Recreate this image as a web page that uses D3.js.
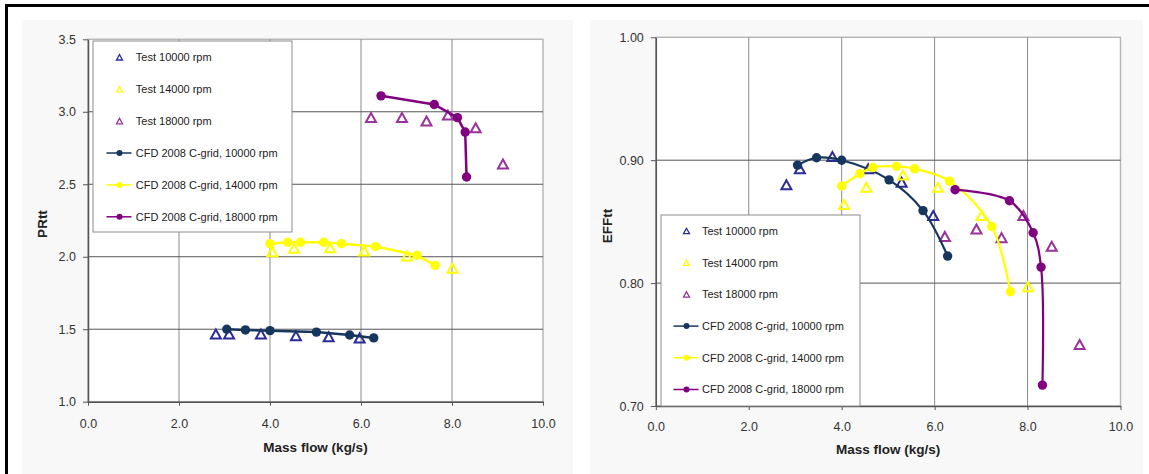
<!DOCTYPE html>
<html>
<head>
<meta charset="utf-8">
<script src="https://cdn.jsdelivr.net/npm/d3@7"></script>
<style>
  body { margin: 0; background: #fff; }
  svg { display: block; font-family: "Liberation Sans", Arial, sans-serif; }
</style>
</head>
<body>
<svg id="chart" width="1149" height="474"></svg>
<script>
// ---- Axis ticks ----
const massFlowTicks = [0, 2, 4, 6, 8, 10];
const prTicks = [1.0, 1.5, 2.0, 2.5, 3.0, 3.5];
const effTicks = [0.70, 0.80, 0.90, 1.00];

// ---- Series names (legend order) ----
const seriesNames = [
  "Test 10000 rpm", "Test 14000 rpm", "Test 18000 rpm",
  "CFD 2008 C-grid, 10000 rpm", "CFD 2008 C-grid, 14000 rpm", "CFD 2008 C-grid, 18000 rpm"
];
const seriesColors = ["#2b2b9a", "#ffff00", "#993399", "#17365d", "#ffff00", "#800080"];

// ---- Test measurements ----
const test10kFlow = [2.81, 3.10, 3.80, 4.57, 5.29, 5.97];
const test10kPR   = [1.467, 1.467, 1.467, 1.455, 1.448, 1.440];
const test10kEff  = [0.880, 0.893, 0.903, 0.893, 0.882, 0.855];

const test14kFlow = [4.05, 4.53, 5.32, 6.07, 7.01, 8.01];
const test14kPR   = [2.034, 2.058, 2.062, 2.040, 2.005, 1.920];
const test14kEff  = [0.864, 0.878, 0.888, 0.878, 0.855, 0.797];

const test18kFlow = [6.22, 6.90, 7.44, 7.91, 8.52, 9.12];
const test18kPR   = [2.960, 2.960, 2.936, 2.977, 2.890, 2.640];
const test18kEff  = [0.838, 0.844, 0.837, 0.855, 0.830, 0.750];

// ---- CFD 2008 C-grid results ----
const cfd10kFlow = [3.05, 3.46, 4.00, 5.02, 5.75, 6.28];
const cfd10kPR   = [1.500, 1.495, 1.490, 1.480, 1.460, 1.440];
const cfd10kEff  = [0.896, 0.902, 0.900, 0.884, 0.859, 0.822];

const cfd14kFlow = [4.00, 4.39, 4.67, 5.18, 5.57, 6.32, 7.23, 7.63];
const cfd14kPR   = [2.090, 2.100, 2.100, 2.100, 2.090, 2.070, 2.010, 1.940];
const cfd14kEff  = [0.879, 0.889, 0.894, 0.895, 0.893, 0.883, 0.846, 0.793];

const cfd18kFlow = [6.44, 7.61, 8.12, 8.29, 8.32];
const cfd18kPR   = [3.110, 3.050, 2.960, 2.860, 2.550];
const cfd18kEff  = [0.876, 0.867, 0.841, 0.813, 0.717];

const zip = (xs, ys) => xs.map((v, i) => [v, ys[i]]);

const svg = d3.select("#chart");

// Outer frame (top and left edges)
svg.append("rect").attr("x", 5).attr("y", 4).attr("width", 1144).attr("height", 3).attr("fill", "#000");
svg.append("rect").attr("x", 5).attr("y", 4).attr("width", 3).attr("height", 470).attr("fill", "#000");

// Light chart-area panels
svg.append("rect").attr("x", 22).attr("y", 20).attr("width", 551).attr("height", 460).attr("fill", "#f8f8f8");
svg.append("rect").attr("x", 590).attr("y", 20).attr("width", 553).attr("height", 460).attr("fill", "#f8f8f8");

function triangle(sel, size, color, sw) {
  const h = size * 0.9;
  sel.append("path")
    .attr("d", `M0,${-h / 2}L${size / 2},${h / 2}L${-size / 2},${h / 2}Z`)
    .attr("fill", "none")
    .attr("stroke", color)
    .attr("stroke-width", sw)
    .attr("stroke-linejoin", "miter");
}

function drawPanel(cfg) {
  const x = d3.scaleLinear().domain([0, 10]).range([cfg.left, cfg.right]);
  const y = d3.scaleLinear().domain(cfg.yDomain).range([cfg.bottom, cfg.top]);
  const g = svg.append("g");

  // plot area
  g.append("rect")
    .attr("x", cfg.left).attr("y", cfg.top)
    .attr("width", cfg.right - cfg.left).attr("height", cfg.bottom - cfg.top)
    .attr("fill", "#fff").attr("stroke", "#b8b8b8").attr("stroke-width", 1.5);

  // gridlines
  g.append("g").selectAll("line").data(massFlowTicks.slice(1, -1)).join("line")
    .attr("x1", d => x(d)).attr("x2", d => x(d))
    .attr("y1", cfg.top).attr("y2", cfg.bottom)
    .attr("stroke", "#8a8a8a").attr("stroke-width", 1);
  g.append("g").selectAll("line").data(cfg.yTicks.slice(1, -1)).join("line")
    .attr("x1", cfg.left).attr("x2", cfg.right)
    .attr("y1", d => y(d)).attr("y2", d => y(d))
    .attr("stroke", "#555").attr("stroke-width", 1);

  // axes
  const xAxis = g.append("g").attr("transform", `translate(0,${cfg.bottom})`)
    .call(d3.axisBottom(x).tickValues(massFlowTicks).tickFormat(d3.format(".1f"))
      .tickSize(4).tickPadding(cfg.xPad).tickSizeOuter(0));
  const yAxis = g.append("g").attr("transform", `translate(${cfg.left},0)`)
    .call(d3.axisLeft(y).tickValues(cfg.yTicks).tickFormat(d3.format(cfg.yFmt))
      .tickSize(5).tickPadding(7).tickSizeOuter(0));
  [xAxis, yAxis].forEach(a => {
    a.select(".domain").attr("stroke", "#555").attr("stroke-width", 1.5);
    a.selectAll(".tick line").attr("stroke", "#555");
    a.selectAll(".tick text").attr("fill", "#333").attr("font-size", 12.5)
      .attr("font-family", "'Liberation Sans', Arial, sans-serif");
  });

  // axis titles
  g.append("text").attr("x", (cfg.left + cfg.right) / 2).attr("y", cfg.xTitleY)
    .attr("text-anchor", "middle").attr("font-size", 13.5).attr("font-weight", "bold")
    .attr("fill", "#222").text("Mass flow (kg/s)");
  g.append("text")
    .attr("transform", `translate(${cfg.yTitleX},${cfg.yTitleY}) rotate(-90)`)
    .attr("text-anchor", "middle").attr("dominant-baseline", "central")
    .attr("font-size", 13.5).attr("font-weight", "bold").attr("fill", "#222")
    .text(cfg.yTitle);

  // test series (open triangles)
  cfg.tests.forEach((pts, i) => {
    g.append("g").selectAll("g").data(pts).join("g")
      .attr("transform", d => `translate(${x(d[0])},${y(d[1])})`)
      .each(function () { triangle(d3.select(this), 10, seriesColors[i], 2); });
  });

  // CFD series (lines with dots)
  const line = d3.line().x(d => x(d[0])).y(d => y(d[1])).curve(cfg.curve);
  cfg.cfds.forEach((pts, i) => {
    const c = seriesColors[i + 3];
    g.append("path").attr("d", line(pts)).attr("fill", "none")
      .attr("stroke", c).attr("stroke-width", cfg.lineWidth);
    g.append("g").selectAll("circle").data(pts).join("circle")
      .attr("cx", d => x(d[0])).attr("cy", d => y(d[1])).attr("r", 4.7).attr("fill", c);
  });

  // legend
  const lg = g.append("g").attr("transform", `translate(${cfg.legend.x},${cfg.legend.y})`);
  lg.append("rect").attr("width", 199).attr("height", cfg.legend.h)
    .attr("fill", "#fff").attr("stroke", "#8c8c8c").attr("stroke-width", 1);
  seriesNames.forEach((name, i) => {
    const row = lg.append("g").attr("transform", `translate(0,${cfg.legend.first + i * cfg.legend.step})`);
    const c = seriesColors[i];
    if (i < 3) {
      const m = row.append("g").attr("transform", `translate(${cfg.legend.mx},0)`);
      triangle(m, 6, c, 1.3);
    } else {
      row.append("line").attr("x1", cfg.legend.mx - 13).attr("x2", cfg.legend.mx + 12)
        .attr("stroke", c).attr("stroke-width", 1.5);
      row.append("circle").attr("cx", cfg.legend.mx).attr("r", 3).attr("fill", c);
    }
    row.append("text").attr("x", cfg.legend.tx).attr("dy", "0.35em")
      .attr("font-size", 11).attr("fill", "#222").text(name);
  });
}

// Pressure ratio vs mass flow
drawPanel({
  left: 88, right: 543, top: 39.3, bottom: 401.7,
  yDomain: [1.0, 3.5], yTicks: prTicks, yFmt: ".1f",
  xPad: 13, xTitleY: 452, yTitleX: 42.5, yTitleY: 224, yTitle: "PRtt",
  curve: d3.curveLinear, lineWidth: 2.5,
  tests: [zip(test10kFlow, test10kPR), zip(test14kFlow, test14kPR), zip(test18kFlow, test18kPR)],
  cfds: [zip(cfd10kFlow, cfd10kPR), zip(cfd14kFlow, cfd14kPR), zip(cfd18kFlow, cfd18kPR)],
  legend: { x: 93, y: 41, h: 191, first: 16.3, step: 31.9, mx: 26.5, tx: 42.8 }
});

// Efficiency vs mass flow
drawPanel({
  left: 655.8, right: 1120.5, top: 37.3, bottom: 406,
  yDomain: [0.70, 1.00], yTicks: effTicks, yFmt: ".2f",
  xPad: 12, xTitleY: 453.5, yTitleX: 607, yTitleY: 226, yTitle: "EFFtt",
  curve: d3.curveCatmullRom.alpha(0.5), lineWidth: 2.2,
  tests: [zip(test10kFlow, test10kEff), zip(test14kFlow, test14kEff), zip(test18kFlow, test18kEff)],
  cfds: [zip(cfd10kFlow, cfd10kEff), zip(cfd14kFlow, cfd14kEff), zip(cfd18kFlow, cfd18kEff)],
  legend: { x: 661, y: 215, h: 191, first: 16, step: 31.7, mx: 25.5, tx: 41 }
});
</script>
</body>
</html>
